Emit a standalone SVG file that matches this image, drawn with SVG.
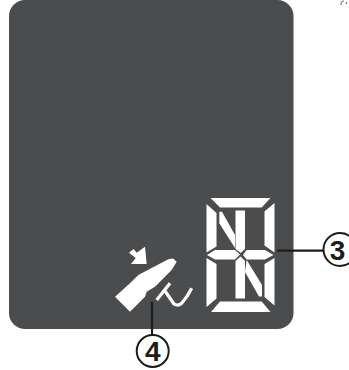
<svg xmlns="http://www.w3.org/2000/svg" width="349" height="370" viewBox="0 0 349 370">
<style>
.seg{fill:#fff}
.lead{stroke:#1c1c1c;stroke-width:2.2;fill:none}
.circ{fill:#fff;stroke:#1c1c1c;stroke-width:2}
.num{font:bold 28px "Liberation Sans",Arial,sans-serif;fill:#1c1c1c;text-anchor:middle}
</style>
<rect width="349" height="370" fill="#fff"/>
<g id="panel"><rect x="9" y="0" width="284.5" height="329" rx="16" fill="#4b4c4e"/></g>
<path id="speck" d="M341,5 Q341,1 344,1 M346,2 L347,4" fill="none" stroke="#777" stroke-width="1.2"/>
<g id="display">
<polygon class="seg" points="210.5,198 270.5,198 261.7,207.5 220,207.5"/>
<polygon class="seg" points="206.5,204 216.5,213 216.5,246.5 206.5,252.5"/>
<polygon class="seg" points="274.5,203 274.5,252.5 264.5,245.5 264.5,211.5"/>
<polygon class="seg" points="207,255 215,250 235,250 240,254.5 235,259.5 215,259.5"/>
<polygon class="seg" points="243,255 246.7,250 265,250 273.5,255 265,259.5 246.7,259.5"/>
<polygon class="seg" points="235.5,210.5 245,210.5 245,249 240.7,253 235.5,249"/>
<polygon class="seg" points="240.5,256.5 245,261 245,298.5 235.5,298.5 235.5,261"/>
<polygon class="seg" points="219.3,211.7 222,211.7 235,235 235,248 219.3,223.3"/>
<polygon class="seg" points="246.7,260 262,285 262,296.5 259,296.5 245,272"/>
<polygon class="seg" points="206.5,258 216.5,264 216.5,298.5 206.5,307"/>
<polygon class="seg" points="274.5,258 274.5,305.5 264.5,297 264.5,264"/>
<polygon class="seg" points="220,301.5 261.7,301.5 270.5,312 211,312"/>
</g>
<g id="hand-icon">
<polygon class="seg" points="115,296.7 130,283.3 138.3,275 168.3,259.3 173,258.5 176.7,261.7 171.7,270 155,286.7 146.7,291.7 145,296.7 130,311.7"/>
<polygon class="seg" points="129,252.7 133.5,249 136.7,252.7 145,246.7 146.7,264 131,264 135.7,258"/>
<path d="M156.7,300 L170,283.3 M165,291 L174,304 Q178,306.5 181.7,303.3 Q188,296 191.7,288.3" fill="none" stroke="#fff" stroke-width="3.2"/>
</g>
<g id="connectors">
<path class="lead" d="M277,250.7H323"/>
<path class="lead" d="M152,301.7V335"/>
</g>
<g id="callout-3"><circle class="circ" cx="340" cy="249.5" r="16.5"/><text class="num" x="337.5" y="259.5">3</text></g>
<g id="callout-4"><circle class="circ" cx="152.7" cy="351" r="16"/><text class="num" x="152.7" y="361">4</text></g>
</svg>
